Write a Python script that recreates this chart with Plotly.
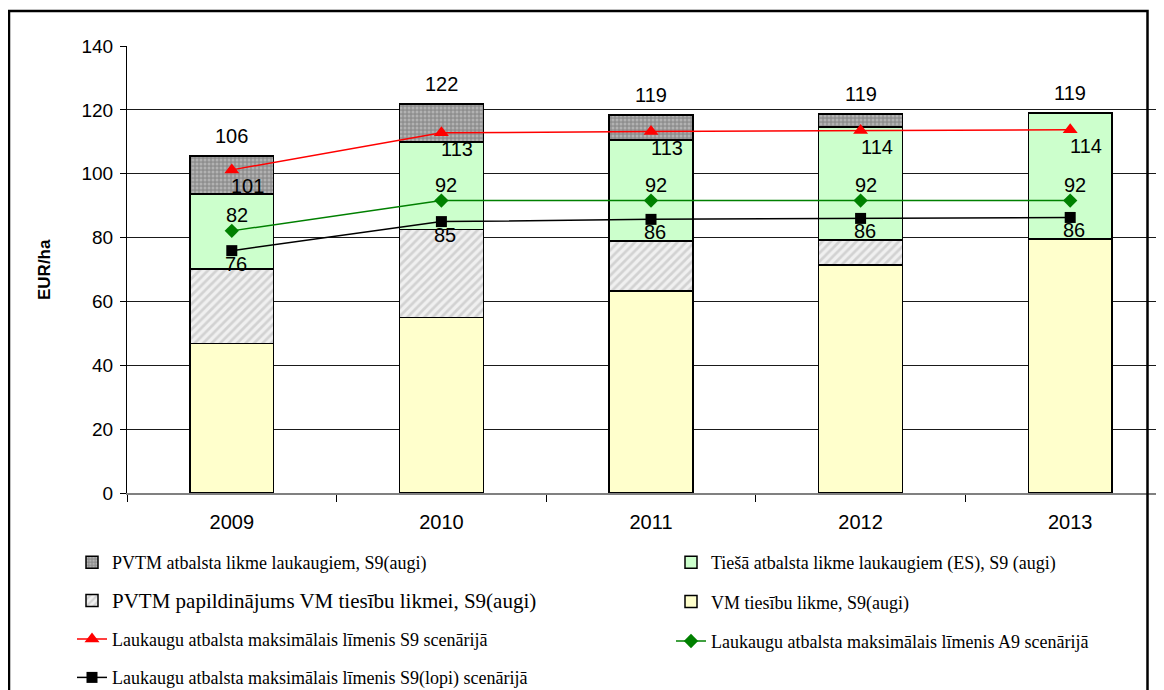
import plotly.graph_objects as go

years = ["2009", "2010", "2011", "2012", "2013"]

# stacked bar parts, EUR/ha
vm_tiesibu = [46.9, 54.9, 63.2, 71.4, 79.5]
pvtm_papild = [23.3, 27.7, 15.8, 7.9, 0]
tiesa_es = [23.5, 27.4, 31.5, 35.4, 39.5]
pvtm_atbalsts = [11.9, 11.8, 7.9, 4.0, 0]
total_labels = ["106", "122", "119", "119", "119"]

# lines
s9 = [101.2, 112.8, 113.2, 113.5, 113.8]
s9_labels = ["101", "113", "113", "114", "114"]
a9 = [82.1, 91.6, 91.6, 91.6, 91.6]
a9_labels = ["82", "92", "92", "92", "92"]
s9_lopi = [75.9, 85.0, 85.7, 86.0, 86.3]
s9_lopi_labels = ["76", "85", "86", "86", "86"]

totals = [a + b + c + d for a, b, c, d in zip(vm_tiesibu, pvtm_papild, tiesa_es, pvtm_atbalsts)]

# page has an 8px body margin, so the figure is 8px smaller than the window
W, H = 1156, 682
L, T, B = 119, 38, 197
PW, PH = W - L, H - T - B

sans = "Liberation Sans, Arial, sans-serif"
serif = "Liberation Serif, Times New Roman, serif"
outline = dict(color="#000000", width=1.5)

fig = go.Figure()
fig.add_trace(go.Bar(x=years, y=vm_tiesibu, name="VM tiesību likme, S9(augi)",
                     marker=dict(color="#ffffcc", line=outline),
                     legend="legend2", legendrank=2, legendgroup="vm"))
fig.add_trace(go.Bar(x=years, y=pvtm_papild,
                     name='<span style="font-size:21px">PVTM papildinājums VM tiesību likmei, S9(augi)</span>',
                     marker=dict(color="#eeeeee", line=outline,
                                 pattern=dict(shape="/", bgcolor="#f0f0f0", fgcolor="#b4b4b4", size=6, solidity=0.45)),
                     legend="legend", legendrank=2, legendgroup="papild"))
fig.add_trace(go.Bar(x=years, y=tiesa_es, name="Tiešā atbalsta likme laukaugiem (ES), S9 (augi)",
                     marker=dict(color="#ccffcc", line=outline),
                     legend="legend2", legendrank=1, legendgroup="es"))
fig.add_trace(go.Bar(x=years, y=pvtm_atbalsts, name="PVTM atbalsta likme laukaugiem, S9(augi)",
                     marker=dict(color="#999999", line=outline,
                                 pattern=dict(shape=".", bgcolor="#8e8e8e", fgcolor="#d6d6d6", size=4, solidity=0.45)),
                     legend="legend", legendrank=1, legendgroup="atb"))

fig.add_trace(go.Scatter(x=years, y=s9, mode="lines+markers",
                         name="Laukaugu atbalsta maksimālais līmenis S9 scenārijā",
                         line=dict(color="#ff0000", width=1.5),
                         marker=dict(symbol="triangle-up", size=13, color="#ff0000"),
                         legend="legend", legendrank=3, legendgroup="s9"))
fig.add_trace(go.Scatter(x=years, y=a9, mode="lines+markers",
                         name="Laukaugu atbalsta maksimālais līmenis A9 scenārijā",
                         line=dict(color="#008000", width=1.5),
                         marker=dict(symbol="diamond", size=11, color="#008000"),
                         legend="legend2", legendrank=3, legendgroup="a9"))
fig.add_trace(go.Scatter(x=years, y=s9_lopi, mode="lines+markers",
                         name="Laukaugu atbalsta maksimālais līmenis S9(lopi) scenārijā",
                         line=dict(color="#000000", width=1.5),
                         marker=dict(symbol="square", size=11, color="#000000"),
                         legend="legend", legendrank=4, legendgroup="lopi"))

# value labels (x given as category index)
lbl_font = dict(family=sans, size=20, color="#000000")
for i, (tot, txt) in enumerate(zip(totals, total_labels)):
    fig.add_annotation(x=i, y=tot, text=txt, showarrow=False, yshift=20, font=lbl_font)
for i, (v, txt) in enumerate(zip(s9, s9_labels)):
    fig.add_annotation(x=i, y=v, text=txt, showarrow=False, xshift=16, yshift=-16, font=lbl_font)
for i, (v, txt) in enumerate(zip(a9, a9_labels)):
    fig.add_annotation(x=i, y=v, text=txt, showarrow=False, xshift=5, yshift=16, font=lbl_font)
for i, (v, txt) in enumerate(zip(s9_lopi, s9_lopi_labels)):
    fig.add_annotation(x=i, y=v, text=txt, showarrow=False, xshift=4, yshift=-13, font=lbl_font)

fig.add_annotation(xref="paper", yref="paper", x=(25 - L) / PW, y=0.5, text="<b>EUR/ha</b>",
                   textangle=-90, showarrow=False, font=dict(family=sans, size=17, color="#000000"))

legend_style = dict(orientation="v", traceorder="grouped", font=dict(family=serif, size=18, color="#000000"),
                    bgcolor="rgba(0,0,0,0)", xref="container", yref="container", xanchor="left", yanchor="top",
                    itemwidth=30)

fig.update_layout(
    width=W, height=H,
    margin=dict(l=L, r=0, t=T, b=B, autoexpand=False),
    paper_bgcolor="#ffffff", plot_bgcolor="#ffffff",
    barmode="stack", bargap=0.6,
    font=dict(family=sans, size=18, color="#000000"),
    legend=dict(legend_style, x=64 / W, y=1 - 536 / H, tracegroupgap=12),
    legend2=dict(legend_style, x=663 / W, y=1 - 536 / H, tracegroupgap=13),
    xaxis=dict(type="category", range=[-0.5, -0.5 + PW / 209.6], showline=True, linecolor="#808080", linewidth=1.5,
               ticks="outside", tickson="boundaries", ticklen=7, tickcolor="#000000",
               showgrid=False, tickfont=dict(size=20), ticklabelstandoff=10),
    yaxis=dict(range=[0, 140], dtick=20, showline=True, linecolor="#000000", linewidth=1,
               ticks="outside", ticklen=6, tickcolor="#000000", gridcolor="#1a1a1a", gridwidth=1,
               zeroline=False, tickfont=dict(size=19), ticklabelstandoff=3),
    showlegend=True,
    shapes=[dict(type="rect", xref="paper", yref="paper", layer="above",
                 x0=(1 - L) / PW, x1=(1139.5 - L) / PW, y0=(T + PH - 720) / PH, y1=(T + PH - 3) / PH,
                 line=dict(color="#000000", width=2.5))],
)

fig.write_html("out.html")
